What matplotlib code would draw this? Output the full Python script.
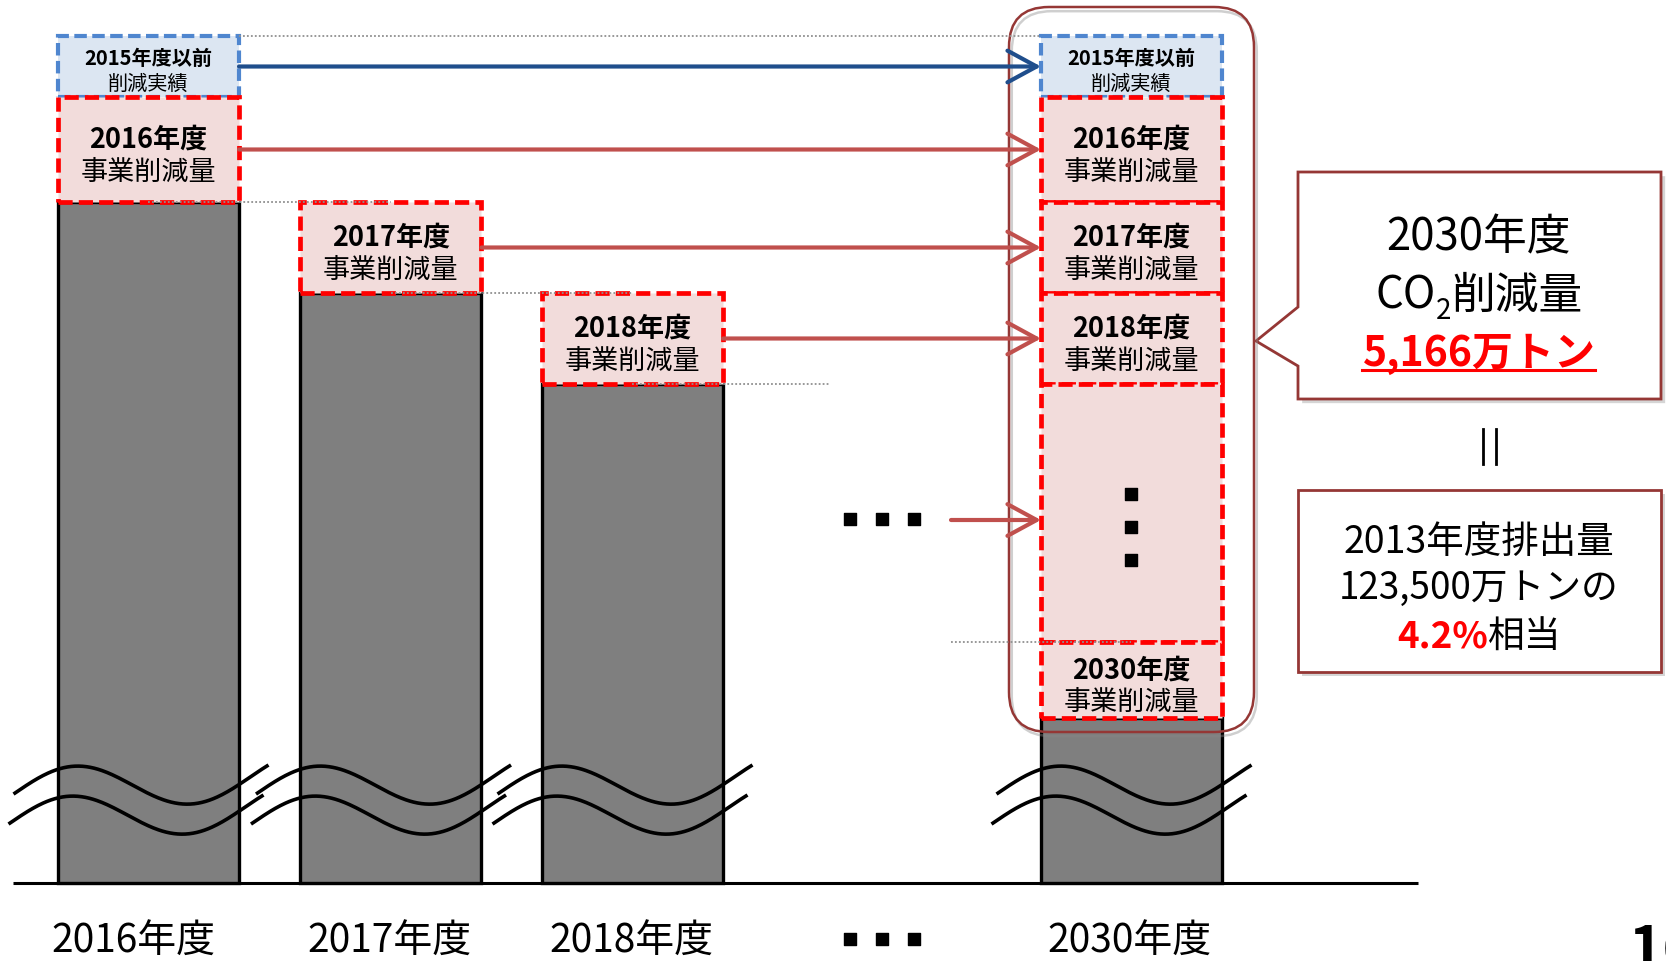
import matplotlib
matplotlib.use('Agg')
import matplotlib.pyplot as plt
import matplotlib.patheffects as pe
from matplotlib.patches import FancyBboxPatch, Polygon, Rectangle
import numpy as np

plt.rcParams['font.family'] = ['Noto Sans CJK JP', 'DejaVu Sans']

# ---------------- data (schematic heights, axis is broken) ----------------
categories = ['2016年度', '2017年度', '2018年度', '2030年度']
base_heights = [681, 590, 499, 165]          # grey base bars above baseline
reduction_names = ['2015年度以前', '2016年度', '2017年度', '2018年度', '2019〜2029年度', '2030年度']
reduction_heights = [61, 105, 91, 91, 258, 76]
col_stack = [[1, 0], [2], [3], [5, 4, 3, 2, 1, 0]]   # bottom -> top per column
callout_lines = ['2030年度', 'CO', '2', '削減量', '5,166万トン']
base_lines = ['2013年度排出量', '123,500万トンの', '4.2%', '相当']
page_no = '16'

# ---------------- canvas ----------------
W, H = 1666, 962
BASE = 884
fig = plt.figure(figsize=(W / 100, H / 100), dpi=100)
ax = fig.add_axes([0, 0, 1, 1])
ax.set_xlim(0, W)
ax.set_ylim(BASE - H, BASE)
ax.axis('off')


def Y(row):
    return BASE - row


def em(size):
    return size * 100 / 72


def text_c(x, row_c, s, size, **kw):
    return ax.text(x, Y(row_c + 0.38 * em(size)), s, fontsize=size, ha='center',
                   va='baseline', zorder=kw.pop('zorder', 10), **kw)


def run_line(xc, row_c, runs, size):
    ts = []
    for s, kw in runs:
        kw = dict(kw)
        dy = kw.pop('dy', 0)
        sz = kw.pop('size', size)
        t = ax.text(0, Y(row_c + 0.38 * em(size)) + dy, s, fontsize=sz, ha='left',
                    va='baseline', zorder=10, **kw)
        ts.append(t)
    fig.canvas.draw()
    r = fig.canvas.get_renderer()
    ws = [t.get_window_extent(r).width for t in ts]
    x = xc - sum(ws) / 2
    for t, w in zip(ts, ws):
        t.set_x(x)
        x += w
    return ts


xc = [148.5, 391, 632.5, 1131.5]
bw = 181
label_x = [133, 389, 631, 1129]

RED = '#FF0000'
RED_FACE = '#F2DCDB'
BLUE = '#4F86CF'
BLUE_FACE = '#DCE6F2'
ARROW_RED = '#C0504D'
ARROW_BLUE = '#1F4E8C'
FRAME = '#953735'
shadow = [pe.SimplePatchShadow(offset=(3, -3), shadow_rgbFace='#888888', alpha=0.35), pe.Normal()]
line_shadow = [pe.SimpleLineShadow(offset=(2, -3), shadow_color='#888888', alpha=0.4), pe.Normal()]

# baseline
ax.plot([13, 1418], [0, 0], color='black', lw=2.2, zorder=1, solid_capstyle='butt')

# grey base bars
ax.bar(xc, base_heights, width=bw, bottom=0, color='#7F7F7F', edgecolor='black',
       linewidth=2.4, zorder=2)

# break marks
for c in xc:
    xs = np.linspace(c - 135, c + 120, 200)
    rows = 785 - 23 * np.cos(2 * np.pi * (xs - (c - 75)) / 236) - 0.07 * (xs - c)
    ax.plot(xs, Y(rows), color='black', lw=2.6, zorder=4, solid_capstyle='butt')
    ax.plot(xs - 5, Y(rows + 30), color='black', lw=2.6, zorder=4, solid_capstyle='butt')

# reduction stacks
box_centers = {}
for ci, stack in enumerate(col_stack):
    bottom = base_heights[ci]
    for ri in stack:
        h = reduction_heights[ri]
        blue = ri == 0
        ax.bar(xc[ci], h, width=bw, bottom=bottom,
               facecolor=BLUE_FACE if blue else RED_FACE,
               edgecolor=BLUE if blue else RED,
               linewidth=3.0 if blue else 3.4,
               linestyle=(0, (3, 1.3)), zorder=3 + 0.01 * ri)
        cy = bottom + h / 2
        crow = BASE - cy
        box_centers[(ci, ri)] = cy
        if blue:
            text_c(xc[ci], crow - 10.5, reduction_names[ri], 14.5, fontweight='bold')
            text_c(xc[ci], crow + 14.5, '削減実績', 14.5)
        elif ri == 4:
            ax.scatter([xc[ci]] * 3, [cy + 19, cy - 14, cy - 47], marker='s', s=70,
                       color='black', zorder=10)
        else:
            text_c(xc[ci], crow - 13, reduction_names[ri], 19.5, fontweight='bold')
            text_c(xc[ci], crow + 19, '事業削減量', 19.5)
        bottom += h

# level guide lines (dotted)
dot_kw = dict(color='#909090', lw=1.3, linestyle=(0, (1, 1.2)), zorder=9)
ax.plot([xc[0] + bw / 2, 1041], [sum(reduction_heights[:2]) + base_heights[0]] * 2, **dot_kw)
ax.plot([xc[0], xc[1]], [base_heights[0]] * 2, **dot_kw)
ax.plot([xc[1], xc[2]], [base_heights[1]] * 2, **dot_kw)
ax.plot([xc[2], 830], [base_heights[2]] * 2, **dot_kw)
ax.plot([951, xc[3]], [base_heights[3] + reduction_heights[5]] * 2, **dot_kw)

# arrows


def arrow(x0, y, color):
    ax.annotate('', xy=(1041, y), xytext=(x0, y),
                arrowprops=dict(arrowstyle='->,head_length=0.7,head_width=0.38',
                                lw=3, color=color, shrinkA=0, shrinkB=0,
                                mutation_scale=30), zorder=8)


arrow(xc[0] + bw / 2, box_centers[(0, 0)], ARROW_BLUE)
arrow(xc[0] + bw / 2, box_centers[(0, 1)], ARROW_RED)
arrow(xc[1] + bw / 2, box_centers[(1, 2)], ARROW_RED)
arrow(xc[2] + bw / 2, box_centers[(2, 3)], ARROW_RED)
arrow(951, box_centers[(3, 4)] - 7, ARROW_RED)

# horizontal ellipsis
for row in (520, 940):
    ax.scatter([850, 882, 914], [Y(row)] * 3, marker='s', s=75, color='black', zorder=10)

# rounded frame around 2030 column
frame = FancyBboxPatch((1009, Y(733)), 245, 725, boxstyle='round,pad=0,rounding_size=40',
                       facecolor='none', edgecolor=FRAME, lw=1.8, zorder=7,
                       path_effects=line_shadow)
ax.add_patch(frame)

# callout box
poly = Polygon([(1298, Y(173)), (1661, Y(173)), (1661, Y(400)), (1298, Y(400)),
                (1298, Y(367)), (1256, Y(342)), (1298, Y(308))], closed=True,
               facecolor='white', edgecolor=FRAME, lw=2.0, zorder=6, path_effects=shadow)
ax.add_patch(poly)
cx = 1479
text_c(cx, 234, callout_lines[0], 31.5)
run_line(cx, 292, [(callout_lines[1], {}), (callout_lines[2], dict(size=20, dy=-10)),
                   (callout_lines[3], {})], 31.5)
t_amt = text_c(cx, 350, callout_lines[4], 29.5, fontweight='bold', color=RED)
fig.canvas.draw()
bb = t_amt.get_window_extent(fig.canvas.get_renderer()).transformed(ax.transData.inverted())
ax.plot([bb.x0, bb.x1], [Y(371)] * 2, color=RED, lw=2.2, zorder=10)

# equals sign (vertical)
for xx in (1483, 1496):
    ax.plot([xx, xx], [Y(430), Y(465)], color='black', lw=2.0, zorder=10)

# base-year box
ax.add_patch(Rectangle((1298, Y(673)), 363, 182, facecolor='white', edgecolor=FRAME,
                       lw=2.0, zorder=6, path_effects=shadow))
text_c(cx, 539, base_lines[0], 27)
text_c(cx, 585, base_lines[1], 26.5)
run_line(cx, 634, [(base_lines[2], dict(color=RED, fontweight='bold')),
                   (base_lines[3], {})], 26.5)

# category labels
for lx, lab in zip(label_x, categories):
    text_c(lx, 938, lab, 28)

# page number (cut off at the corner, as in the source slide)
ax.text(1628, Y(922), page_no, fontsize=42, fontweight='bold', ha='left', va='top', zorder=10)

fig.savefig('out.png', dpi=100)
